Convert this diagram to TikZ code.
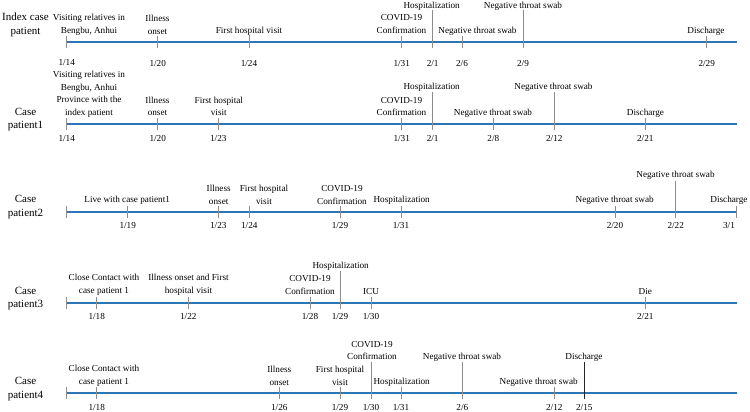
\documentclass[tikz,border=0pt]{standalone}
\usepackage{fontspec}
\setmainfont{Liberation Serif}
\usepackage{tikz}
\usetikzlibrary{positioning, calc}
\definecolor{lineblue}{RGB}{46,117,182}

\begin{document}
\begin{tikzpicture}[
            x=1pt, y=-1pt,
            timeline/.style={line width=2.2pt, lineblue},
            tick/.style={line width=0.6pt, black!45},
            lbl/.style={font=\fontsize{9.2}{12.5}\selectfont, align=center, inner sep=0pt},
            datelbl/.style={lbl},
            pat/.style={font=\fontsize{11}{13.5}\selectfont, align=center, inner sep=0pt}
        ]
            \useasboundingbox (0,0) rectangle (750,412);

            % Index case patient
            \node[pat] (p0) at (25.5,25) {Index case\\patient};
            \draw[timeline] (66.7,42) coordinate (l0s) -- (737,42) coordinate (l0e);
            \foreach \x/\m/\d/\t [count=\i] in {66.7/1/14/36, 157.7/1/20/36, 249/1/24/35, 401.7/1/31/36,
                                                 432.7/2/1/10, 462/2/6/36, 523/2/9/10, 706.7/2/29/36}
                {\draw[tick] (\x,\t) -- (\x,48);
                 \node[datelbl] (d0\i) at (\x,63) {\m/\d};}
            \node[lbl] (a1) at (89,25) {Visiting relatives in\\Bengbu, Anhui};
            \node[lbl] (a2) at (157.5,24.7) {Illness\\onset};
            \node[lbl] (a3) at (249,31) {First hospital visit};
            \node[lbl] (a4) at (401.5,24.2) {COVID-19\\Confirmation};
            \node[lbl] (a5) at (431.7,6) {Hospitalization};
            \node[lbl] (a6) at (477.5,31) {Negative throat swab};
            \node[lbl] (a7) at (523,6) {Negative throat swab};
            \node[lbl] (a8) at (706,31) {Discharge};

            % Case patient1
            \node[pat] (p1) at (25.5,119.5) {Case\\patient1};
            \draw[timeline] (66.7,124) coordinate (l1s) -- (737,124) coordinate (l1e);
            \foreach \x/\m/\d/\t [count=\i] in {66.7/1/14/118, 157.7/1/20/118, 218.3/1/23/118, 401.7/1/31/118,
                                                 432.7/2/1/92, 493.3/2/8/118, 554.3/2/12/92, 645.3/2/21/118}
                {\draw[tick] (\x,\t) -- (\x,130);
                 \node[datelbl] (d1\i) at (\x,138.3) {\m/\d};}
            \node[lbl] (b1) at (89,94.3) {Visiting relatives in\\Bengbu, Anhui\\Province with the\\index patient};
            \node[lbl] (b2) at (157.5,106.5) {Illness\\onset};
            \node[lbl] (b3) at (218.8,106.5) {First hospital\\visit};
            \node[lbl] (b4) at (401.5,106.5) {COVID-19\\Confirmation};
            \node[lbl] (b5) at (431.7,87.3) {Hospitalization};
            \node[lbl] (b6) at (493,113) {Negative throat swab};
            \node[lbl] (b7) at (553.5,87.3) {Negative throat swab};
            \node[lbl] (b8) at (645.5,113) {Discharge};

            % Case patient2
            \node[pat] (p2) at (25.5,207) {Case\\patient2};
            \draw[timeline] (66.7,211.7) coordinate (l2s) -- (737,211.7) coordinate (l2e);
            \draw[tick] (66.7,205.7) -- (66.7,217.7);
            \foreach \x/\m/\d/\t [count=\i] in {127.7/1/19/206, 218.3/1/23/206, 249.3/1/24/206, 340/1/29/206,
                                                 401/1/31/206, 615/2/20/206, 675.7/2/22/181}
                {\draw[tick] (\x,\t) -- (\x,217.7);
                 \node[datelbl] (d2\i) at (\x,225.7) {\m/\d};}
            \draw[tick] (736.7,206) -- (736.7,217.7);
            \node[datelbl] (d28) at (729,225.7) {3/1};
            \node[lbl] (c1) at (127.2,200.7) {Live with case patient1};
            \node[lbl] (c2) at (218.7,195) {Illness\\onset};
            \node[lbl] (c3) at (264,195) {First hospital\\visit};
            \node[lbl] (c4) at (342,195) {COVID-19\\Confirmation};
            \node[lbl] (c5) at (401.7,200.7) {Hospitalization};
            \node[lbl] (c6) at (614.7,200.7) {Negative throat swab};
            \node[lbl] (c7) at (675.5,175.7) {Negative throat swab};
            \node[lbl] (c8) at (729,200.7) {Discharge};

            % Case patient3
            \node[pat] (p3) at (25.5,298.3) {Case\\patient3};
            \draw[timeline] (66.7,302.7) coordinate (l3s) -- (737,302.7) coordinate (l3e);
            \draw[tick] (66.7,296.7) -- (66.7,308.7);
            \foreach \x/\m/\d/\t [count=\i] in {96.7/1/18/297, 188.3/1/22/297, 310/1/28/297, 340/1/29/271,
                                                 371/1/30/297, 645.3/2/21/297}
                {\draw[tick] (\x,\t) -- (\x,308.7);
                 \node[datelbl] (d3\i) at (\x,316) {\m/\d};}
            \node[lbl] (e1) at (104,285) {Close Contact with\\case patient 1};
            \node[lbl] (e2) at (188.5,285) {Illness onset and First\\hospital visit};
            \node[lbl] (e3) at (310,285) {COVID-19\\Confirmation};
            \node[lbl] (e4) at (340.7,266) {Hospitalization};
            \node[lbl] (e5) at (371,291) {ICU};
            \node[lbl] (e6) at (645.3,291) {Die};

            % Case patient4
            \node[pat] (p4) at (25.5,389) {Case\\patient4};
            \draw[timeline] (66.7,393.3) coordinate (l4s) -- (737,393.3) coordinate (l4e);
            \draw[tick] (66.7,387.3) -- (66.7,399.3);
            \foreach \x/\m/\d/\t [count=\i] in {96.7/1/18/387, 279.3/1/26/387, 340/1/29/387, 371/1/30/362,
                                                 401/1/31/387, 462.3/2/6/362, 554.3/2/12/387}
                {\draw[tick] (\x,\t) -- (\x,399.3);
                 \node[datelbl] (d4\i) at (\x,407.3) {\m/\d};}
            \draw[tick, black!85] (584.3,362) -- (584.3,399.3);
            \node[datelbl] (d48) at (584.3,407.3) {2/15};
            \node[lbl] (f1) at (104,375.7) {Close Contact with\\case patient 1};
            \node[lbl] (f2) at (279.3,375.7) {Illness\\onset};
            \node[lbl] (f3) at (340,375.7) {First hospital\\visit};
            \node[lbl] (f4) at (372,350.3) {COVID-19\\Confirmation};
            \node[lbl] (f5) at (401.7,382) {Hospitalization};
            \node[lbl] (f6) at (462,357.3) {Negative throat swab};
            \node[lbl] (f7) at (538.7,382) {Negative throat swab};
            \node[lbl] (f8) at (584,357.3) {Discharge};
        \end{tikzpicture}
\end{document}
